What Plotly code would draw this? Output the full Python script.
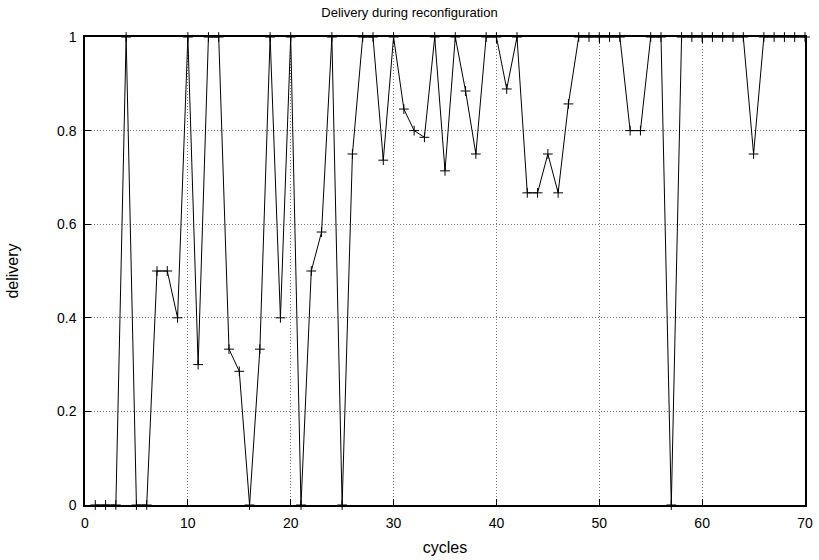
import plotly.graph_objects as go

cycles = list(range(1, 71))
delivery = [
    0, 0, 0, 1, 0, 0, 0.5, 0.5, 0.4, 1,
    0.3, 1, 1, 0.333, 0.2857, 0, 0.333, 1, 0.4, 1,
    0, 0.5, 0.5833, 1, 0, 0.75, 1, 1, 0.7368, 1,
    0.846, 0.8, 0.7857, 1, 0.714, 1, 0.8846, 0.75, 1, 1,
    0.889, 1, 0.667, 0.667, 0.75, 0.667, 0.857, 1, 1, 1,
    1, 1, 0.8, 0.8, 1, 1, 0, 1, 1, 1,
    1, 1, 1, 1, 0.75, 1, 1, 1, 1, 1,
]
x_ticks = [0, 10, 20, 30, 40, 50, 60, 70]
y_ticks = [0, 0.2, 0.4, 0.6, 0.8, 1]
y_tick_text = ["0", "0.2", "0.4", "0.6", "0.8", "1"]

fig = go.Figure()
fig.add_trace(go.Scatter(
    x=cycles, y=delivery, mode="lines+markers",
    line=dict(color="black", width=1),
    marker=dict(symbol="cross-thin", size=7, line=dict(color="black", width=1)),
    cliponaxis=False, showlegend=False,
))

font = dict(family="Liberation Sans, Arial, sans-serif", size=13, color="black")
axis_common = dict(
    showline=True, linecolor="black", linewidth=1.5, mirror="allticks",
    ticks="inside", ticklen=6, tickcolor="black",
    showgrid=True, gridcolor="#777777", griddash="1px,2px", gridwidth=1,
    zeroline=False, tickfont=dict(size=14), automargin=False,
)
fig.update_layout(
    width=819, height=560,
    margin=dict(l=85, r=14, t=37, b=55),
    paper_bgcolor="white", plot_bgcolor="white",
    font=font,
    title=dict(text="Delivery during reconfiguration", x=0.5, xanchor="center",
               y=0.977, yanchor="middle", font=dict(size=13)),
    xaxis=dict(range=[0, 70], tickvals=x_ticks, ticklabelstandoff=4,
               title=dict(text="cycles", standoff=12), **axis_common),
    yaxis=dict(range=[0, 1], tickvals=y_ticks, ticktext=y_tick_text, ticklabelstandoff=4,
               title=dict(text="delivery", standoff=34), **axis_common),
)
fig.write_html("out.html")
